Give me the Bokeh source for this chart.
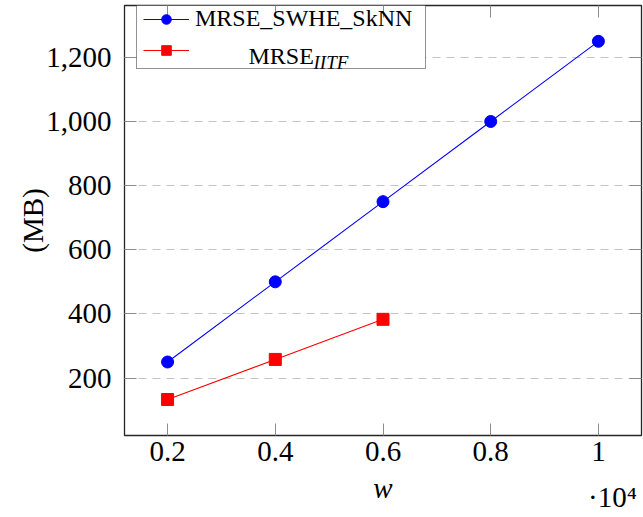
import math
from bokeh.plotting import figure
from bokeh.models import (Range1d, FixedTicker, NumeralTickFormatter, Legend, LegendItem,
                          LinearAxis, Grid, BoxAnnotation)
from bokeh.core.properties import value
from bokeh.embed import file_html
from bokeh.resources import INLINE

# ---- data ----
w_values = [2000, 4000, 6000, 8000, 10000]
skNN_mb = [250, 500, 750, 1000, 1250]
w_iitf = [2000, 4000, 6000]
iitf_mb = [133, 258, 383]
x_tick_vals = [2000, 4000, 6000, 8000, 10000]
x_tick_labels = ["0.2", "0.4", "0.6", "0.8", "1"]
y_tick_vals = [200, 400, 600, 800, 1000, 1200]

FONT = "Liberation Serif"
X0, X1 = 1200, 10800
Y0, Y1 = 20.75, 1361.75

p = figure(width=643, height=517, output_backend="svg", toolbar_location=None,
           x_range=Range1d(X0, X1), y_range=Range1d(Y0, Y1),
           min_border_left=124, min_border_right=2, min_border_top=5, min_border_bottom=82,
           x_axis_type=None, y_axis_type=None)
p.background_fill_color = "white"
p.border_fill_color = "white"
p.outline_line_color = "#262626"
p.outline_line_width = 1.3
p.center = [r for r in p.center if not isinstance(r, Grid)]

def style_axis(ax, labels=True):
    ax.axis_line_color = None
    ax.major_tick_in = 12
    ax.major_tick_out = 0
    ax.minor_tick_in = 0
    ax.minor_tick_out = 0
    ax.major_tick_line_color = "#8c8c8c"
    ax.major_tick_line_width = 1
    ax.major_label_text_font = FONT
    ax.major_label_text_color = "black"
    ax.axis_label_text_font = FONT
    ax.axis_label_text_color = "black"
    ax.axis_label_text_font_size = "29px"
    ax.axis_label_text_font_style = "normal"
    if labels:
        ax.major_label_text_font_size = "29px"
    else:
        ax.major_label_text_font_size = "0px"
        ax.major_label_standoff = 0

xt = FixedTicker(ticks=x_tick_vals, minor_ticks=[])
yt = FixedTicker(ticks=y_tick_vals, minor_ticks=[])
overrides = {v: s for v, s in zip(x_tick_vals, x_tick_labels)}

FW, FH = 517.0, 430.0   # frame size in px (for placing legend pieces relative to the frame)
def dx(px):
    return X0 + px / FW * (X1 - X0)
def dy(py):
    return Y0 + py / FH * (Y1 - Y0)

xb = LinearAxis(ticker=xt, major_label_overrides=overrides)
style_axis(xb)
xb.major_label_standoff = 6
p.add_layout(xb, "below")

# x-axis title "w"
xw = LinearAxis(ticker=FixedTicker(ticks=[]), axis_label="w")
style_axis(xw, labels=False)
xw.major_tick_in = 0
xw.axis_label_standoff = 8
xw.axis_label_text_font_style = "italic"
p.add_layout(xw, "below")

# scale factor label (·10⁴) under the right end of the x axis
xs = LinearAxis(ticker=FixedTicker(ticks=[]), axis_label="·10⁴\u2003\u2003",
                axis_label_align="end")
style_axis(xs, labels=False)
xs.major_tick_in = 0
xs.axis_label_standoff = -26
p.add_layout(xs, "below")

yl = LinearAxis(ticker=yt, formatter=NumeralTickFormatter(format="0,0"), axis_label="(MB)")
style_axis(yl)
yl.major_label_standoff = 13
yl.axis_label_standoff = -6
p.add_layout(yl, "left")

xa = LinearAxis(ticker=xt, major_label_overrides={v: "" for v in x_tick_vals})
style_axis(xa, labels=False)
p.add_layout(xa, "above")
yr = LinearAxis(ticker=yt, major_label_overrides={v: "" for v in y_tick_vals})
style_axis(yr, labels=False)
p.add_layout(yr, "right")

grid = Grid(dimension=1, ticker=yt, grid_line_color="#c4c4c4", grid_line_dash="8 6",
            grid_line_width=1)
p.add_layout(grid, "center")

# white backing for the legend box (covers the grid line under it)
p.add_layout(BoxAnnotation(left=dx(12), right=dx(301), bottom=dy(366), top=dy(430),
                           fill_color="white", fill_alpha=1, line_color=None,
                           level="underlay"))

l1 = p.line(w_values, skNN_mb, line_color="#0000ff", line_width=1.1)
s1 = p.scatter(w_values, skNN_mb, marker="circle", size=12, fill_color="#0000ff", line_color="#0000ff")
l2 = p.line(w_iitf, iitf_mb, line_color="#ff0000", line_width=1.1)
s2 = p.scatter(w_iitf, iitf_mb, marker="square", size=12, fill_color="#ff0000", line_color="#ff0000")

legend = Legend(items=[LegendItem(label="MRSE_SWHE_SkNN", renderers=[l1, s1]),
                       LegendItem(label=" ", renderers=[l2, s2])],
                location=(12, 366), padding=6, spacing=6, label_height=24, glyph_height=24,
                glyph_width=46, label_standoff=6, label_width=224,
                label_text_font=FONT, label_text_font_size="24px", label_text_color="black",
                border_line_color="#262626", border_line_width=1, background_fill_alpha=0,
                margin=0)
p.add_layout(legend, "center")

# second legend entry: MRSE with subscript IITF, centred in the legend
p.text(x=[dx(124)], y=[dy(380)], text=["MRSE"], level="overlay",
       text_font=value(FONT), text_font_size="24px", text_baseline="alphabetic",
       text_align="left", text_color="black")
p.text(x=[dx(189)], y=[dy(373)], text=["IITF"], level="overlay",
       text_font=value(FONT), text_font_size="19px", text_font_style="italic",
       text_baseline="alphabetic", text_align="left", text_color="black")

open("out.html", "w").write(file_html(p, INLINE))
